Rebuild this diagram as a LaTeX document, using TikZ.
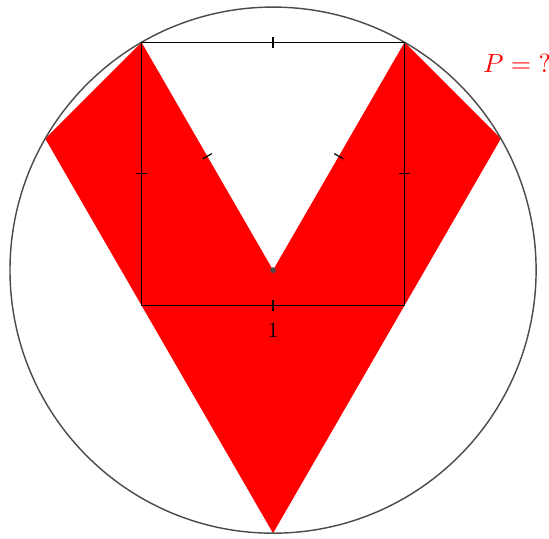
\documentclass[tikz,border=0pt]{standalone}
\usetikzlibrary{calc}
\begin{document}
\begin{tikzpicture}[x=3.866cm,y=3.866cm,
  rim/.style={draw=black!70,line width=0.6pt},
  edge/.style={draw=black,line width=0.5pt},
  tick/.style={draw=black,line width=0.5pt},
  lab/.style={font=\fontsize{10.5}{12.5}\selectfont}]
\useasboundingbox (-1.038,-1.019) rectangle (1.049,1.027);
\coordinate (O) at (0,0);
\coordinate (A) at (120:1);
\coordinate (B) at (60:1);
\coordinate (E) at (150:1);
\coordinate (F) at (30:1);
\coordinate (D) at (0,-1);
\coordinate (C) at ($(B)+(0,-1)$);
\coordinate (G) at ($(A)+(0,-1)$);
\fill[red] (O) -- (B) -- (F) -- (D) -- (E) -- (A) -- cycle;
\draw[rim] (O) circle[radius=1];
\draw[edge] (A) -- (B) -- (C) -- (G) -- cycle;
% ticks
\draw[tick] ($(A)!0.5!(B)+(0,0.02)$) -- ($(A)!0.5!(B)+(0,-0.02)$);
\draw[tick] ($(G)!0.5!(C)+(0,0.02)$) -- ($(G)!0.5!(C)+(0,-0.02)$);
\draw[tick] ($(A)!0.5!(G)+(0.02,0)$) -- ($(A)!0.5!(G)+(-0.02,0)$);
\draw[tick] ($(B)!0.5!(C)+(0.02,0)$) -- ($(B)!0.5!(C)+(-0.02,0)$);
\draw[tick] ($(O)!0.5!(A)+(30:0.02)$) -- ($(O)!0.5!(A)+(210:0.02)$);
\draw[tick] ($(O)!0.5!(B)+(150:0.02)$) -- ($(O)!0.5!(B)+(-30:0.02)$);
\fill[black!70] (O) circle[radius=0.011];
\node[font=\small] (one) at (0,-0.23) {$1$};
\node[lab,red,anchor=west,inner sep=0pt] (P) at (0.797,0.787) {$P={?}$};
\end{tikzpicture}
\end{document}
